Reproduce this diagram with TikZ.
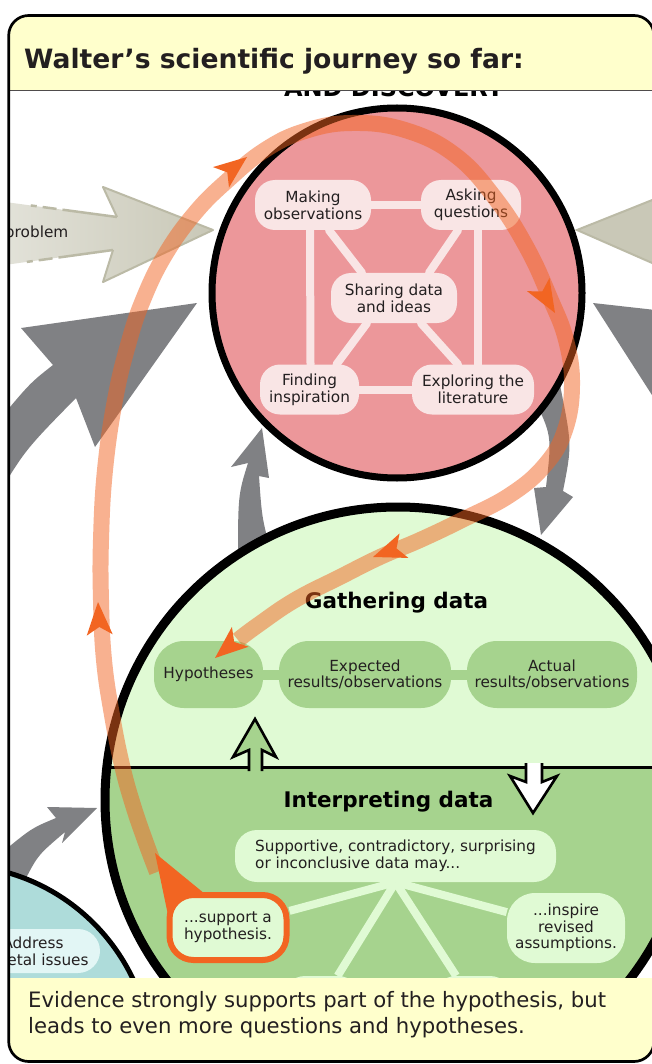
\documentclass[tikz,border=0pt]{standalone}
\usepackage{fontspec}
\setmainfont{DejaVu Sans}
\usetikzlibrary{positioning}

\definecolor{bandyel}{HTML}{FFFFCC}
\definecolor{inkc}{HTML}{231F20}
\definecolor{redc}{HTML}{EC979A}
\definecolor{pinkc}{HTML}{F9E5E5}
\definecolor{lgreen}{HTML}{E0FAD4}
\definecolor{mgreen}{HTML}{A6D38E}
\definecolor{tealc}{HTML}{AEDCDA}
\definecolor{tealp}{HTML}{E2F6F5}
\definecolor{greyc}{HTML}{808184}
\definecolor{beigec}{HTML}{C9C8B7}
\definecolor{beiged}{HTML}{BBBAA6}
\definecolor{orangec}{HTML}{F26522}

\begin{document}
\begin{tikzpicture}[x=1pt,y=-1pt]


% GLOBAL SETTINGS
\newcommand{\bodyfont}{\fontsize{15.3}{16.6}\selectfont}
\newcommand{\secfont}{\fontsize{21.5}{24}\selectfont\bfseries}
\newcommand{\topfont}{\fontsize{26.6}{30}\selectfont\bfseries}
\newcommand{\footfont}{\fontsize{21.2}{25.5}\selectfont}
\newlength{\bandw}
\setlength{\bandw}{16pt}
\tikzset{
  pinkpill/.style={fill=pinkc, rounded corners=20pt, minimum height=50pt, inner sep=0pt, align=center, font=\bodyfont, text=inkc},
  greenpill/.style={fill=mgreen, rounded corners=30pt, minimum height=67pt, inner sep=0pt, align=center, font=\bodyfont, text=inkc},
  lightpill/.style={fill=lgreen, rounded corners=22pt, inner sep=0pt, align=center, font=\bodyfont, text=inkc},
  pinklink/.style={draw=pinkc, line width=8pt, line cap=round},
  greenlink/.style={draw=mgreen, line width=10pt},
  spoke/.style={draw=lgreen, line width=8pt},
  greyarrow/.style={fill=greyc},
  band/.style={draw=orangec, draw opacity=0.5, line width=\bandw},
  bandhead/.style={fill=orangec},
  hollow/.style={draw=black, line width=2.6pt, line join=miter},
}

\useasboundingbox (0,0) rectangle (652,1064);
\fill[white] (0,0) rectangle (652,1064);

\begin{scope}
\clip[rounded corners=20pt] (8.7,15.5) rectangle (654,1061.5);

% SIDE ARROWS
\shade[left color=white!50!beigec, right color=beigec]
  (-10,200) -- (117,217) -- (103,187) -- (213,230) -- (103,282) -- (113,250) -- (-10,267) -- cycle;
\draw[beiged, line width=2pt, line join=round] (117,217) -- (103,187) -- (213,230) -- (103,282) -- (113,250);
\draw[beiged, line width=2.5pt, dash pattern=on 55pt off 6pt on 14pt off 6pt on 6pt off 40pt] (117,217) -- (-10,200) (113,250) -- (-10,267);
\node[anchor=base east, font=\bodyfont, text=inkc, inner sep=0pt] (P) at (68.5,238) {problem};
\filldraw[fill=beigec, draw=beiged, line width=2pt] (577,230) -- (700,181) -- (700,284) -- cycle;

\fill[greyarrow] (197,303) -- (21,328) -- (53,365) .. controls (30,383) .. (-5,425) -- (-5,500) .. controls (25,450) .. (76,398) -- (95,447) -- cycle;
\fill[greyarrow] (593,303) -- (700,315) -- (700,470) -- cycle;
\fill[greyarrow] (262,428) -- (231,467) -- (248,463) .. controls (238,495) .. (238,565) -- (275,565) .. controls (262,520) .. (259,476) -- (269,478) -- cycle;
\fill[greyarrow] (532,395) .. controls (552,435) .. (546,487) -- (534,488) -- (541,535) -- (573,497) -- (563,491) .. controls (572,445) .. (560,385) -- cycle;
\fill[greyarrow] (97,808) -- (47,807) -- (56,818) .. controls (32,828) .. (5,850) -- (5,890) -- (25,880) .. controls (38,855) .. (65,832) -- (62,843) -- cycle;

% EXPLORATION AND DISCOVERY
\node[anchor=base, font=\fontsize{24}{28}\selectfont\bfseries, inner sep=0pt] (D) at (394,96.5) {AND DISCOVERY};
\draw[fill=redc, line width=7pt] (397,293) circle[radius=185pt];
\node[pinkpill, minimum width=116pt] (Mk) at (313,205) {Making\\observations};
\node[pinkpill, minimum width=100pt] (Ask) at (471,205) {Asking\\questions};
\node[pinkpill, minimum width=126pt] (Sh) at (394,298) {Sharing data\\and ideas};
\node[pinkpill, minimum width=99pt] (Fi) at (309.5,389.5) {Finding\\inspiration};
\node[pinkpill, minimum width=122pt] (Ex) at (473,389.5) {Exploring the\\literature};
\draw[pinklink] (Mk) -- (Ask);
\draw[pinklink] (Fi) -- (Ex);
\draw[pinklink] ([xshift=-3pt]Mk.south) -- ([xshift=1pt]Fi.north);
\draw[pinklink] ([xshift=7pt]Ask.south) -- ([xshift=5pt]Ex.north);
\draw[pinklink] ([xshift=16pt]Mk.south) -- ([xshift=-32pt]Sh.north);
\draw[pinklink] ([xshift=-13pt]Ask.south) -- ([xshift=35pt]Sh.north);
\draw[pinklink] ([xshift=-27pt]Sh.south) -- ([xshift=27pt]Fi.north);
\draw[pinklink] ([xshift=27pt]Sh.south) -- ([xshift=-15pt]Ex.north);

% SOCIETY
\draw[fill=tealc, line width=5pt] (-47,1064) circle[radius=199pt];
\node[fill=tealp, rounded corners=22pt, minimum width=134pt, minimum height=44pt, inner sep=0pt, align=center, font=\bodyfont, text=inkc] (T) at (33,951) {Address\\societal issues};

% TESTING IDEAS
\fill[lgreen] (398,800) circle[radius=293pt];
\begin{scope}
\clip (398,800) circle[radius=293pt];
\fill[mgreen] (0,767) rectangle (700,1100);
\end{scope}
\draw[line width=3pt] (107,767) -- (700,767);
\draw[hollow, fill=mgreen] (249,771) -- (249,750) -- (233,757) -- (255,719) -- (276,757) -- (262,750) -- (262,771);
\draw[hollow, fill=white] (526,763) -- (526,782) -- (510,776) -- (533,813) -- (557,776) -- (542,782) -- (542,763);
\draw[line width=9pt] (398,800) circle[radius=293pt];

\node[anchor=base, font=\secfont, inner sep=0pt] (G) at (396.5,608) {Gathering data};
\node[anchor=base, font=\secfont, inner sep=0pt] (I) at (388.5,807) {Interpreting data};

\node[greenpill, minimum width=109pt] (H) at (208.5,674.5) {Hypotheses};
\node[greenpill, minimum width=172pt] (E) at (365,674.5) {Expected\\results/observations};
\node[greenpill, minimum width=170pt] (A) at (552,674.5) {Actual\\results/observations};
\draw[greenlink] (H) -- (E);
\draw[greenlink] (E) -- (A);

% DATA MAY ...
\fill[orangec] (155,853) -- (205,894) -- (168,915) -- cycle;
\node[lightpill, minimum width=321pt, minimum height=52pt, align=left] (S) at (395.5,856) {Supportive, contradictory, surprising\\or inconclusive data may...};
\node[lightpill, draw=orangec, line width=6pt, minimum width=117pt, minimum height=65pt, rounded corners=24pt] (S1) at (228,927.5) {...support a\\hypothesis.};
\node[lightpill, minimum width=77pt, minimum height=52pt] (S2) at (321.5,1002) {};
\node[lightpill, minimum width=78pt, minimum height=52pt] (S3) at (473,1002) {};
\node[lightpill, minimum width=118pt, minimum height=70pt, rounded corners=28pt] (S4) at (566,928) {...inspire\\revised\\assumptions.};
\foreach \j in {1,...,4} { \draw[spoke] (S.south) -- (S\j) ;}

% WALTER'S PATH
\draw[band] plot[smooth, tension=0.7] coordinates {(157,872) (146,843) (133,805) (122,765) (112,715) (104,660) (101,600) (101,540) (105,470) (115,400) (128,345) (143,300) (165,255) (195,213) (228,180) (265,150) (305,131) (352,123) (405,130) (455,155) (495,198) (527,248) (550,298) (566,340) (572,385) (565,430) (545,465) (510,495) (462,520) (420,540) (380,557) (340,577) (295,600) (258,625) (238,640)};
\foreach \x/\y/\a in {98/602/93, 247/157/38, 555/313/-59.5, 373/557/-160, 215/658/-140} {
  \fill[bandhead, shift={(\x,\y)}, rotate=\a] (0,0) -- (-33,13) -- (-25,0) -- (-33,-13) -- cycle;
}

% HEADER & FOOTER
\fill[bandyel] (0,0) rectangle (700,91);
\draw[line width=1pt, inkc!80] (0,91) -- (700,91);
\fill[bandyel] (0,978) rectangle (700,1100);
\end{scope}

\node[anchor=base west, font=\topfont, text=inkc, inner sep=0pt] (title) at (24,69) {Walter’s scientific journey so far:};
\node[anchor=base west, align=left, font=\footfont, text=inkc, inner sep=0pt] (foot) at (28,1033) {Evidence strongly supports part of the hypothesis, but\\leads to even more questions and hypotheses.};

% FRAME
\draw[line width=2.7pt, rounded corners=20pt] (8.7,15.5) rectangle (654,1061.5);

\end{tikzpicture}
\end{document}
